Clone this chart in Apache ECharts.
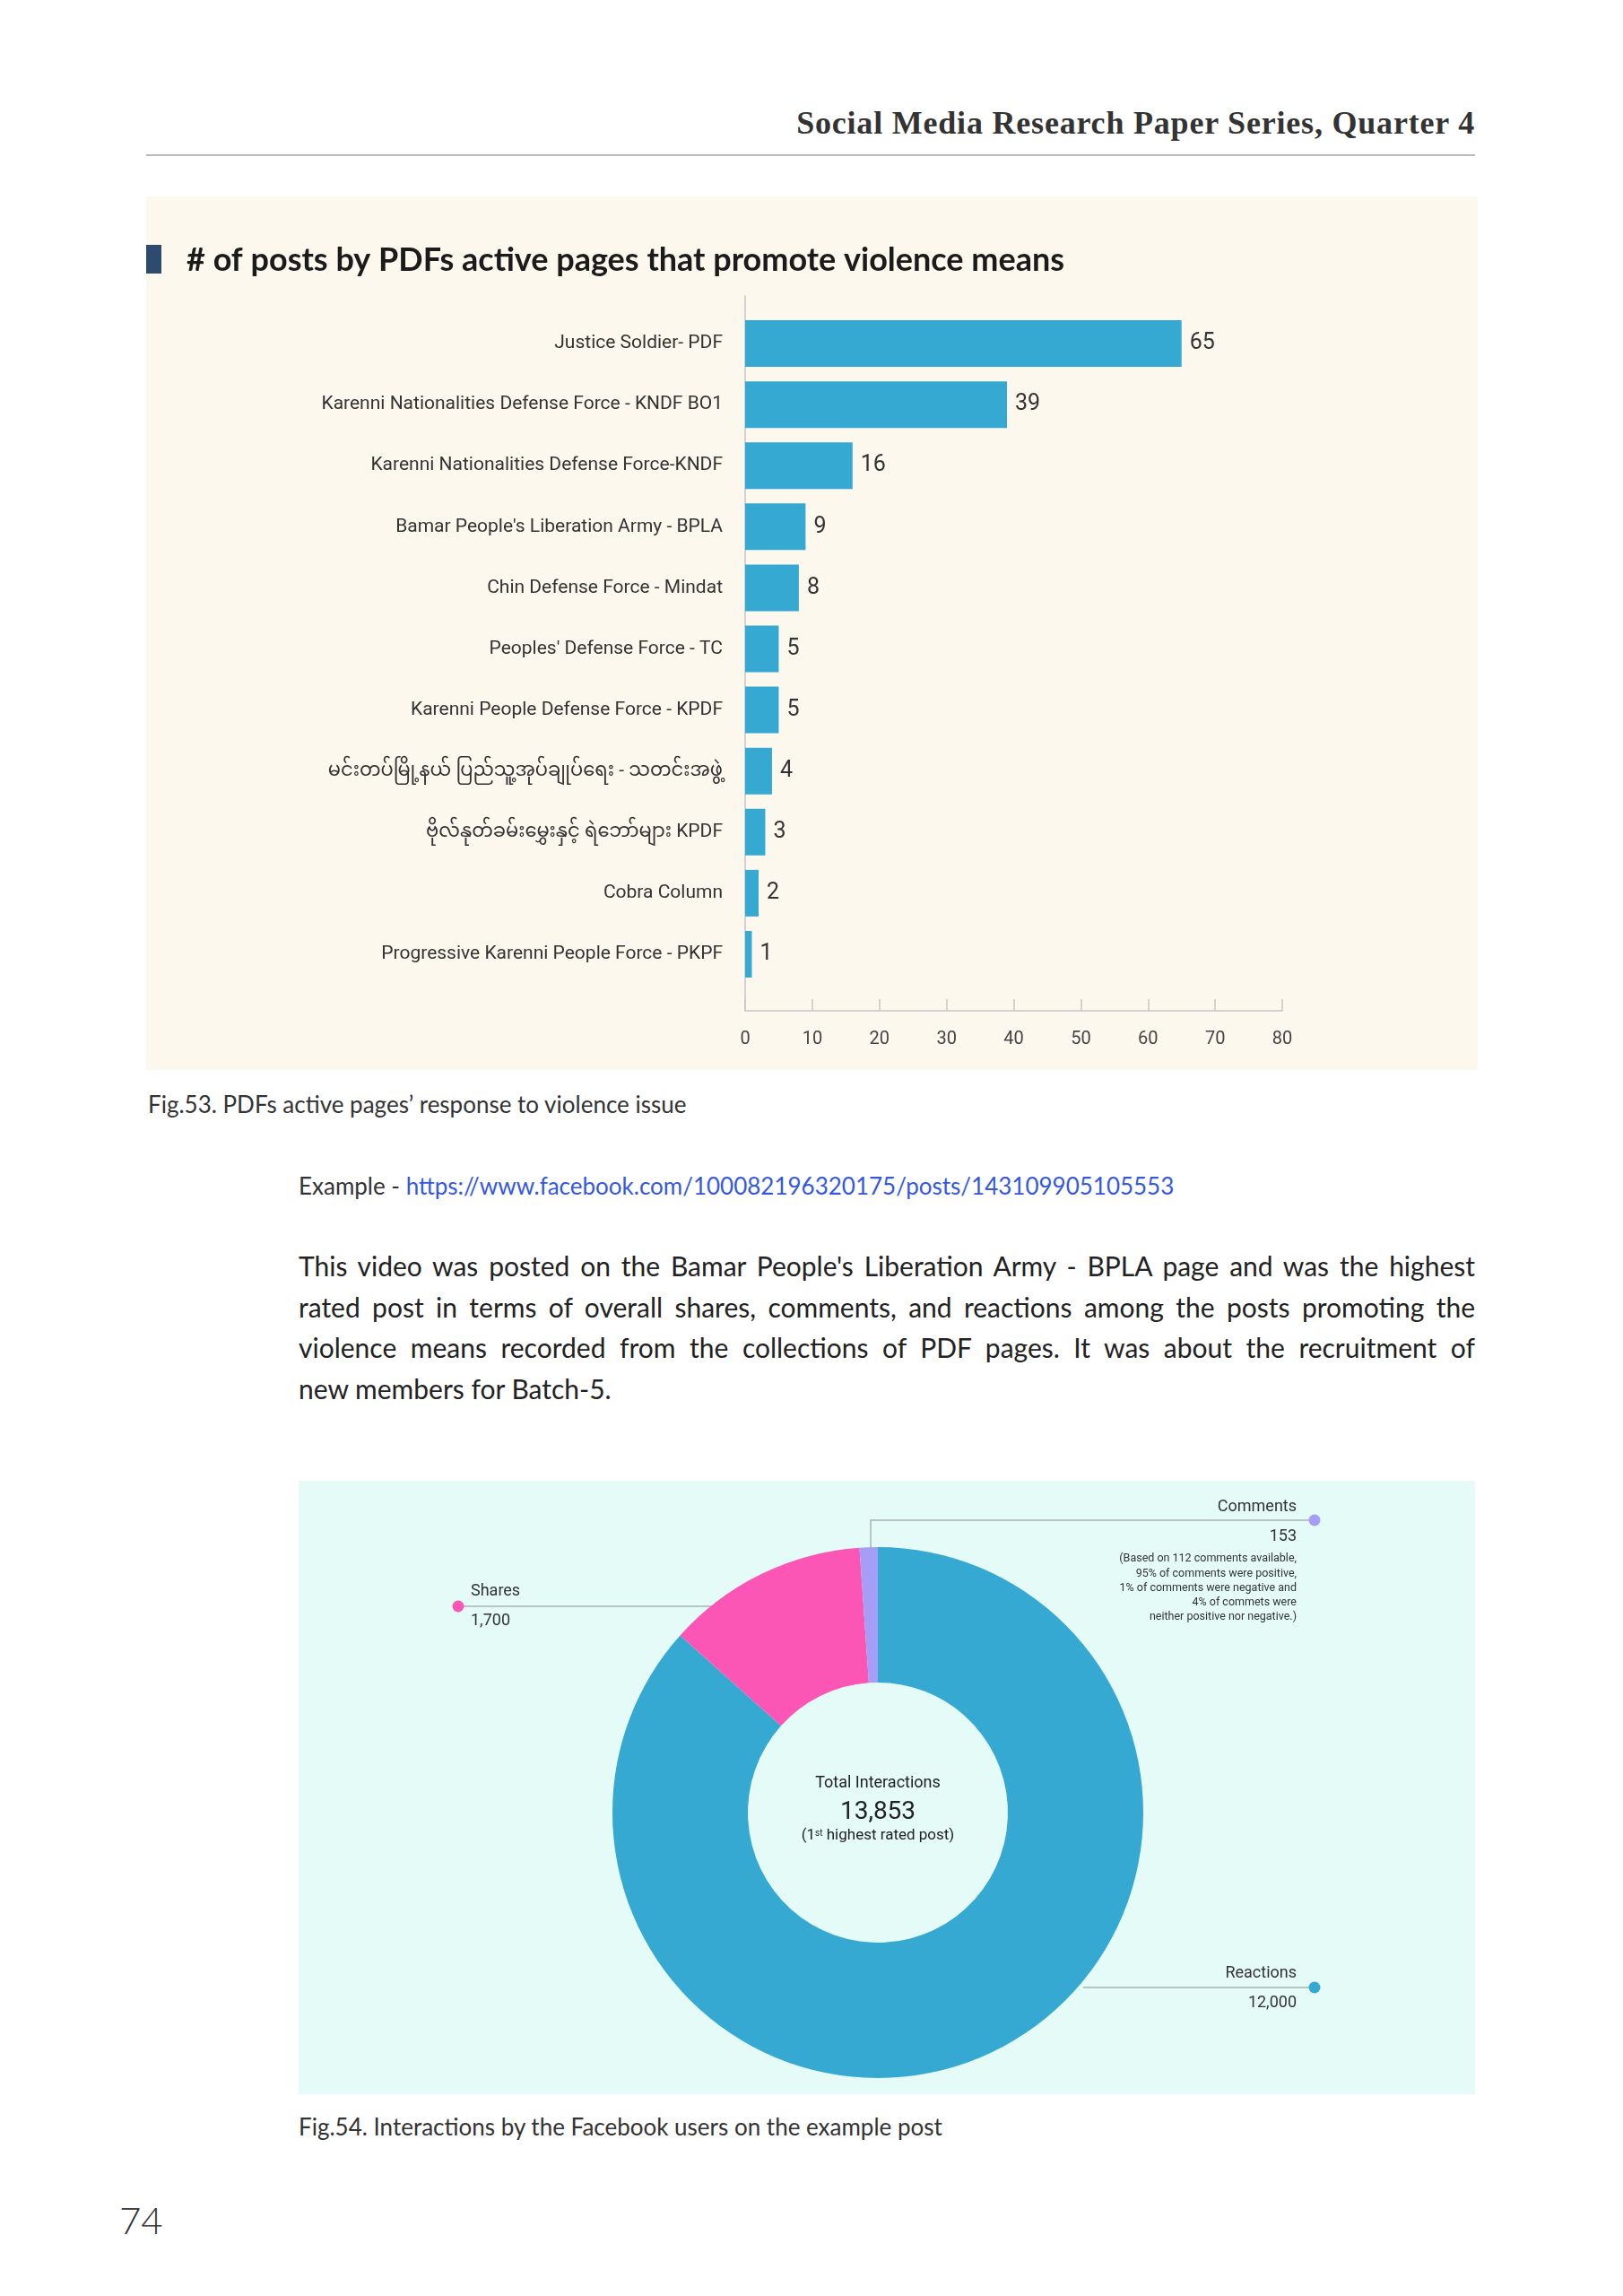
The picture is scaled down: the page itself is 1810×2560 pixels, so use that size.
<!DOCTYPE html>
<html>
<head>
<meta charset="utf-8">
<script src="https://cdn.jsdelivr.net/npm/echarts@6/dist/echarts.min.js"></script>
<style>
  html, body { margin: 0; padding: 0; background: #ffffff; }
  body { width: 1810px; height: 2560px; position: relative; overflow: hidden; font-family: Lato, "Open Sans", sans-serif; color: #222; }
  .abs { position: absolute; white-space: nowrap; }
  #header { right: 165px; top: 115px; font-family: "Liberation Serif", serif; font-weight: bold; font-size: 36px; letter-spacing: 0.8px; line-height: 44px; color: #333; }
  #rule { left: 163px; top: 172px; width: 1482px; height: 2px; background: #b9b9b9; }
  #chart1 { position: absolute; left: 163px; top: 219px; width: 1485px; height: 974px; background: #fdf8ee; }
  #chart2 { position: absolute; left: 333px; top: 1651px; width: 1312px; height: 684px; background: #e4fbf7; }
  .cap { font-size: 26px; line-height: 32px; color: #333; }
  #cap53 { left: 165px; top: 1215px; }
  #example { left: 333px; top: 1306px; }
  #example a { color: #3558e0; text-decoration: none; }
  #para { position: absolute; left: 333px; top: 1389px; width: 1312px; font-size: 30px; line-height: 45.7px; color: #222; }
  #para div { white-space: nowrap; }
  #para .j { text-align: justify; text-align-last: justify; white-space: normal; }
  #cap54 { left: 333px; top: 2355px; }
  #pageno { left: 133px; top: 2450px; font-size: 42px; line-height: 50px; font-weight: 300; color: #333; }
</style>
</head>
<body>
<div id="header" class="abs">Social Media Research Paper Series, Quarter 4</div>
<div id="rule" class="abs"></div>
<div id="chart1"></div>
<div id="cap53" class="abs cap">Fig.53. PDFs active pages’ response to violence issue</div>
<div id="example" class="abs cap">Example - <a>https://www.facebook.com/100082196320175/posts/143109905105553</a></div>
<div id="para">
  <div class="j">This video was posted on the Bamar People's Liberation Army - BPLA page and was the highest</div>
  <div class="j">rated post in terms of overall shares, comments, and reactions among the posts promoting the</div>
  <div class="j">violence means recorded from the collections of PDF pages. It was about the recruitment of</div>
  <div>new members for Batch-5.</div>
</div>
<div id="chart2"></div>
<div id="cap54" class="abs cap">Fig.54. Interactions by the Facebook users on the example post</div>
<div id="pageno" class="abs">74</div>

<script>
// ---------- Data: Fig.53 ----------
const pageNames = [
  'Justice Soldier- PDF',
  'Karenni Nationalities Defense Force - KNDF BO1',
  'Karenni Nationalities Defense Force-KNDF',
  "Bamar People's Liberation Army - BPLA",
  'Chin Defense Force - Mindat',
  "Peoples' Defense Force - TC",
  'Karenni People Defense Force - KPDF',
  'မင်းတပ်မြို့နယ် ပြည်သူ့အုပ်ချုပ်ရေး - သတင်းအဖွဲ့',
  'ဗိုလ်နုတ်ခမ်းမွှေးနှင့် ရဲဘော်များ KPDF',
  'Cobra Column',
  'Progressive Karenni People Force - PKPF'
];
const postCounts = [65, 39, 16, 9, 8, 5, 5, 4, 3, 2, 1];
const xAxisMin = 0;
const xAxisMax = 80;
const xAxisStep = 10;
const chartTitle = '# of posts by PDFs active pages that promote violence means';

// ---------- Data: Fig.54 ----------
const interactionTypes = ['Reactions', 'Shares', 'Comments'];
const interactionCounts = [12000, 1700, 153];
const commentNote = [
  '(Based on 112 comments available,',
  '95% of comments were positive,',
  '1% of comments were negative and',
  '4% of commets were',
  'neither positive nor negative.)'
];
const centerTitle = 'Total Interactions';
const centerNote = ['(1', 'st', ' highest rated post)'];

const FONT = 'Roboto, "Noto Sans Myanmar", "Noto Sans", sans-serif';

// ---------- Chart 1 ----------
const c1 = echarts.init(document.getElementById('chart1'), null, { renderer: 'canvas' });
const axisGray = '#c6c6c6';
c1.setOption({
  animation: false,
  title: {
    text: chartTitle, left: 40, top: 48,
    textStyle: { fontFamily: 'Lato, sans-serif', fontWeight: 'bold', fontSize: 36, color: '#1b1b1b' }
  },
  graphic: [{ type: 'rect', left: 0, top: 54, shape: { width: 17, height: 32 }, style: { fill: '#2d4b6e' } }],
  grid: [
    { left: 668, top: 130, width: 599, height: 749 },
    { left: 668, top: 111, width: 599, height: 797 }
  ],
  xAxis: [
    { gridIndex: 0, type: 'value', min: xAxisMin, max: xAxisMax, interval: xAxisStep, show: false },
    {
      gridIndex: 1, type: 'value', min: xAxisMin, max: xAxisMax, interval: xAxisStep,
      axisLine: { show: true, lineStyle: { color: axisGray, width: 1.5 } },
      axisTick: { show: true, inside: true, length: 13, lineStyle: { color: axisGray, width: 1.5 } },
      axisLabel: { fontFamily: FONT, fontSize: 20, color: '#444', margin: 22 },
      splitLine: { show: false }
    }
  ],
  yAxis: [
    {
      gridIndex: 0, type: 'category', data: pageNames, inverse: true,
      axisLine: { show: false }, axisTick: { show: false },
      axisLabel: { fontFamily: FONT, fontSize: 21, color: '#333', margin: 25 }
    },
    {
      gridIndex: 1, type: 'value', min: 0, max: 1,
      axisLine: { show: true, lineStyle: { color: axisGray, width: 1.5 } },
      axisTick: { show: false }, axisLabel: { show: false }, splitLine: { show: false }
    }
  ],
  series: [{
    type: 'bar', xAxisIndex: 0, yAxisIndex: 0, data: postCounts, barWidth: 52,
    itemStyle: { color: '#35a9d1' },
    label: { show: true, position: 'right', distance: 9, fontFamily: FONT, fontSize: 25, color: '#333' }
  }]
});

// ---------- Chart 2 ----------
const c2 = echarts.init(document.getElementById('chart2'), null, { renderer: 'canvas' });
const total = interactionCounts.reduce((a, b) => a + b, 0);
const sliceColors = ['#35a9d1', '#fb56b6', '#a59df6'];
const labelAlign = { Reactions: 'right', Shares: 'left', Comments: 'right' };
const labelPos = {
  Reactions: { x: 1113, y: 533 },
  Shares: { x: 192, y: 107 },
  Comments: { x: 1113, y: 13 }
};
const txt = '#333';
function richFor(align) {
  return {
    n: { fontFamily: FONT, fontSize: 18, lineHeight: 33, color: txt, align },
    v: { fontFamily: FONT, fontSize: 18, lineHeight: 33, color: txt, align },
    s: { fontFamily: FONT, fontSize: 12.5, lineHeight: 16.3, color: txt, align }
  };
}
const pieData = interactionTypes.map((name, i) => ({
  name, value: interactionCounts[i],
  itemStyle: { color: sliceColors[i] },
  label: { rich: richFor(labelAlign[name]) }
}));
const lineColor = '#a7b3b5';
c2.setOption({
  animation: false,
  graphic: [
    { type: 'polyline', z: 1, shape: { points: [[638, 75], [638, 44], [1133, 44]] }, style: { stroke: lineColor, lineWidth: 1.5, fill: null } },
    { type: 'polyline', z: 1, shape: { points: [[462, 140], [178, 140]] }, style: { stroke: lineColor, lineWidth: 1.5, fill: null } },
    { type: 'polyline', z: 1, shape: { points: [[875, 565], [1133, 565]] }, style: { stroke: lineColor, lineWidth: 1.5, fill: null } },
    { type: 'circle', z: 3, shape: { cx: 1133, cy: 44, r: 6.5 }, style: { fill: sliceColors[2] } },
    { type: 'circle', z: 3, shape: { cx: 178, cy: 140, r: 6.5 }, style: { fill: sliceColors[1] } },
    { type: 'circle', z: 3, shape: { cx: 1133, cy: 565, r: 6.5 }, style: { fill: sliceColors[0] } },
    {
      type: 'text', z: 5, x: 646, y: 322,
      style: {
        text: '{a|' + centerTitle + '}\n{b|' + total.toLocaleString('en-US') + '}\n{c|' + centerNote[0] + '}{sup|' + centerNote[1] + '}{c|' + centerNote[2] + '}',
        align: 'center', verticalAlign: 'top',
        rich: {
          a: { fontFamily: FONT, fontSize: 18, lineHeight: 30, fill: '#222', align: 'center' },
          b: { fontFamily: FONT, fontSize: 28, lineHeight: 36, fill: '#222', align: 'center' },
          c: { fontFamily: FONT, fontSize: 17, lineHeight: 16, fill: '#222' },
          sup: { fontFamily: FONT, fontSize: 10, lineHeight: 16, fill: '#222', verticalAlign: 'top' }
        }
      }
    }
  ],
  series: [{
    type: 'pie', center: [646, 370], radius: [145, 296], startAngle: 90, clockwise: true,
    avoidLabelOverlap: false, z: 2,
    data: pieData,
    itemStyle: { borderWidth: 0 },
    label: {
      show: true, position: 'outside',
      formatter: p => {
        let s = '{n|' + p.name + '}\n{v|' + p.value.toLocaleString('en-US') + '}';
        if (p.name === 'Comments') s += '\n' + commentNote.map(l => '{s|' + l + '}').join('\n');
        return s;
      }
    },
    labelLine: { show: false },
    labelLayout: params => {
      const name = interactionTypes[params.dataIndex];
      const p = labelPos[name];
      return { x: p.x, y: p.y, align: labelAlign[name], verticalAlign: 'top' };
    }
  }]
});
</script>
</body>
</html>
